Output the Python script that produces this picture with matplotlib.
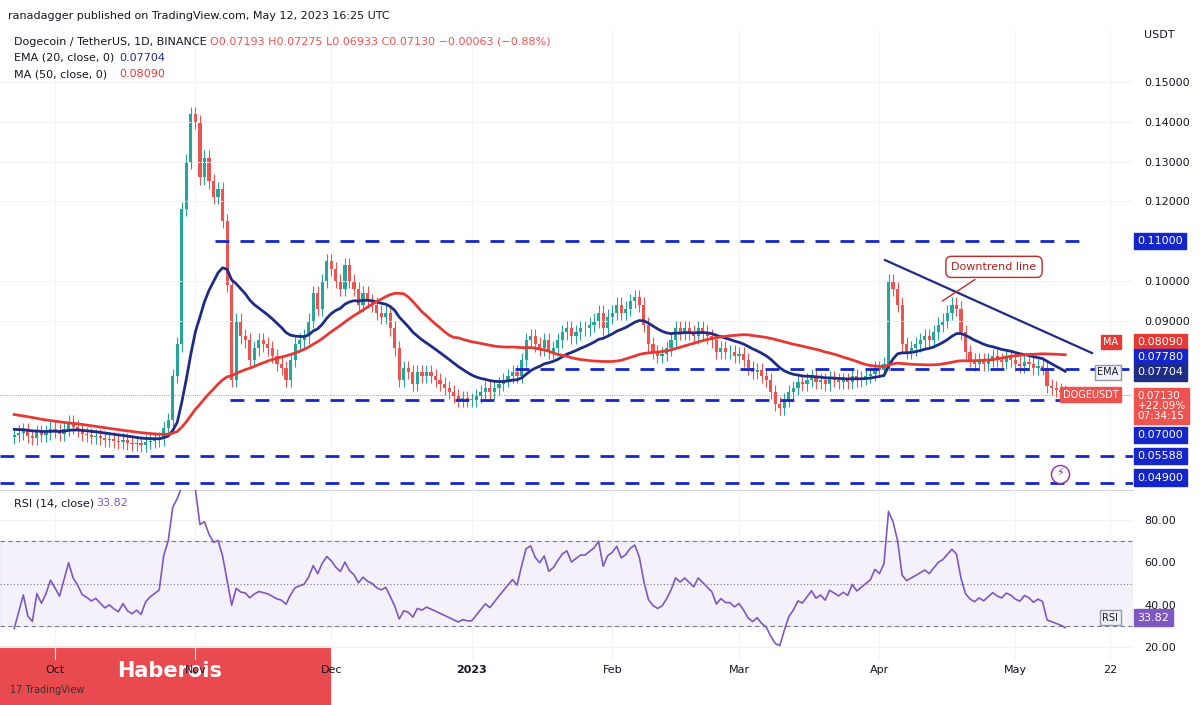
import matplotlib
matplotlib.use("Agg")
import matplotlib.pyplot as plt
import matplotlib.dates as mdates
import numpy as np
import pandas as pd
from matplotlib.patches import Rectangle

start = "2022-09-22"
# closes before the visible window (used only to warm up EMA / MA / RSI)
pre_closes = [
 0.0700,0.0705,0.0712,0.0708,0.0715,0.0720,0.0718,0.0710,0.0705,0.0700,
 0.0698,0.0702,0.0700,0.0695,0.0690,0.0688,0.0692,0.0695,0.0690,0.0685,
 0.0680,0.0682,0.0685,0.0680,0.0675,0.0670,0.0665,0.0668,0.0660,0.0655,
 0.0650,0.0645,0.0640,0.0638,0.0635,0.0632,0.0630,0.0628,0.0625,0.0630,
 0.0628,0.0624,0.0620,0.0618,0.0615,0.0612,0.0615,0.0610,0.0612,0.0608,
]
closes = [
 0.0612,0.0618,0.0625,0.0610,0.0605,0.0620,0.0612,0.0618,0.0628,
 # Oct
 0.0622,0.0615,0.0628,0.0645,0.0632,0.0625,0.0615,0.0612,0.0608,0.0610,
 0.0605,0.0600,0.0602,0.0598,0.0595,0.0600,0.0593,0.0590,0.0592,0.0588,
 0.0595,0.0598,0.0600,0.0602,0.0630,0.0650,0.0760,0.0840,0.1180,0.1300,0.1420,
 # Nov
 0.1400,0.1260,0.1310,0.1250,0.1210,0.1230,0.1150,0.0990,0.0750,0.0900,
 0.0860,0.0850,0.0800,0.0830,0.0850,0.0840,0.0830,0.0810,0.0790,0.0780,
 0.0750,0.0800,0.0840,0.0850,0.0860,0.0900,0.0970,0.0930,0.1000,0.1050,
 # Dec
 0.1030,0.1000,0.0980,0.1040,0.1000,0.0980,0.0940,0.0970,0.0950,0.0940,
 0.0920,0.0910,0.0920,0.0880,0.0830,0.0750,0.0780,0.0770,0.0740,0.0770,
 0.0760,0.0770,0.0760,0.0750,0.0740,0.0730,0.0720,0.0710,0.0700,0.0705,0.0700,
 # Jan
 0.0700,0.0710,0.0720,0.0730,0.0720,0.0730,0.0740,0.0750,0.0760,0.0770,
 0.0760,0.0800,0.0850,0.0860,0.0840,0.0830,0.0850,0.0820,0.0830,0.0850,
 0.0870,0.0880,0.0860,0.0870,0.0880,0.0880,0.0890,0.0900,0.0920,0.0880,0.0910,
 # Feb
 0.0920,0.0940,0.0920,0.0930,0.0950,0.0960,0.0940,0.0890,0.0840,0.0820,
 0.0810,0.0815,0.0830,0.0850,0.0880,0.0870,0.0880,0.0870,0.0860,0.0880,
 0.0870,0.0860,0.0850,0.0820,0.0830,0.0820,0.0820,0.0810,
 # Mar
 0.0815,0.0800,0.0780,0.0770,0.0775,0.0760,0.0750,0.0720,0.0690,0.0680,
 0.0700,0.0720,0.0730,0.0745,0.0740,0.0750,0.0760,0.0745,0.0750,0.0740,
 0.0755,0.0750,0.0745,0.0750,0.0745,0.0760,0.0750,0.0755,0.0760,0.0765,0.0780,
 # Apr
 0.0775,0.0790,0.1000,0.0980,0.0940,0.0840,0.0820,0.0830,0.0840,0.0850,
 0.0860,0.0850,0.0870,0.0890,0.0900,0.0920,0.0940,0.0930,0.0870,0.0820,
 0.0800,0.0790,0.0800,0.0790,0.0800,0.0810,0.0800,0.0795,0.0805,0.0800,
 # May
 0.0790,0.0785,0.0795,0.0790,0.0780,0.0785,0.0780,0.0735,0.0730,0.0725,0.0720,0.0713,
]
wick_up = 0.0018
wick_dn = 0.0018

n_pre = len(pre_closes)
dates = pd.date_range(start, periods=len(closes), freq="D")
c = np.array(closes)
o = np.r_[pre_closes[-1], c[:-1]]
h = np.maximum(o, c) + wick_up
l = np.minimum(o, c) - wick_dn
s = pd.Series(pre_closes + closes)
ema20 = s.ewm(span=20, adjust=False).mean().values[n_pre:]
ma50 = s.rolling(50, min_periods=1).mean().values[n_pre:]
d = s.diff()
up = d.clip(lower=0).ewm(alpha=1/14, adjust=False).mean()
dn = (-d.clip(upper=0)).ewm(alpha=1/14, adjust=False).mean()
rsi = (100 - 100 / (1 + up / dn)).values[n_pre:]

levels = [0.11, 0.0778, 0.07, 0.05588, 0.049]

fig = plt.figure(figsize=(12, 7.05), dpi=100)
W, H = 1200, 705
def rect(x0, y0, x1, y1):
    return [x0 / W, 1 - y1 / H, (x1 - x0) / W, (y1 - y0) / H]
ax = fig.add_axes(rect(0, 30, 1133, 490))
ax2 = fig.add_axes(rect(0, 490, 1133, 660), sharex=ax)

PPD = 4.53
x0 = mdates.date2num(pd.Timestamp("2022-10-01")) - 55 / PPD
x1 = x0 + 1133 / PPD
def px2d(px):
    return x0 + px / PPD

xs = mdates.date2num(dates)
UP, DN = "#26a69a", "#ef5350"
for xi, oi, hi, li, ci in zip(xs, o, h, l, c):
    col = UP if ci >= oi else DN
    ax.vlines(xi, li, hi, color=col, lw=0.8)
    ax.add_patch(Rectangle((xi - 0.35, min(oi, ci)), 0.7, max(abs(ci - oi), 0.0002), color=col, lw=0))
ax.plot(xs, ema20, color="#1f2c85", lw=2)
ax.plot(xs, ma50, color="#e53935", lw=2)

BLUE = "#1426c9"
spans = {0.11: (215, 1080), 0.0778: (515, 1133), 0.07: (230, 1075), 0.05588: (0, 1133), 0.049: (0, 1133)}
for lv in levels:
    a, b = spans[lv]
    ax.hlines(lv, px2d(a), px2d(b), color=BLUE, lw=2, linestyles=(0, (5, 4)))
ax.plot([px2d(885), px2d(1092)], [0.10522, 0.08182], color="#1f2c85", lw=1.6)
ax.annotate("Downtrend line", xy=(px2d(940), 0.0945), xytext=(px2d(994), 0.1035),
            ha="center", va="center", fontsize=8, color="#b71c1c",
            bbox=dict(boxstyle="round,pad=0.5", fc="white", ec="#c62828"),
            arrowprops=dict(arrowstyle="-", color="#c62828"))
ax.axhline(0.0713, color=DN, lw=0.6, ls=":")

ax.set_xlim(x0, x1)
ax.set_ylim(0.04736, 0.1631)
for a_ in (ax, ax2):
    a_.yaxis.tick_right()
    a_.tick_params(axis="y", length=0, labelsize=8, colors="#131722", pad=8)
    a_.tick_params(axis="x", length=0)
    for sp in a_.spines.values():
        sp.set_visible(False)
    a_.grid(True, color="#f0f3fa", lw=0.8)
ax.spines["bottom"].set_visible(True); ax.spines["bottom"].set_color("#d1d4dc")
ax.set_yticks([0.09, 0.10, 0.12, 0.13, 0.14, 0.15])
ax.yaxis.set_major_formatter(matplotlib.ticker.FuncFormatter(lambda v, p: f"{v:.5f}"))
plt.setp(ax.get_xticklabels(), visible=False)

def tag(axis, y, text, fc, tc="white"):
    axis.text(1.004, y, text, transform=axis.get_yaxis_transform(), fontsize=8, color=tc,
              va="center", ha="left", bbox=dict(boxstyle="square,pad=0.3", fc=fc, ec=fc))
tag(ax, 0.11, "0.11000", BLUE)
tag(ax, 0.0846, "0.08090", "#e53935")
tag(ax, 0.0808, "0.07780", BLUE)
tag(ax, 0.0770, "0.07704", "#1f2c85")
ax.text(1.004, 0.0685, "0.07130\n+22.09%\n07:34:15", transform=ax.get_yaxis_transform(), fontsize=7.5,
        color="white", va="center", ha="left", linespacing=1.0,
        bbox=dict(boxstyle="square,pad=0.3", fc=DN, ec=DN))
tag(ax, 0.0612, "0.07000", BLUE)
tag(ax, 0.05588, "0.05588", BLUE)
tag(ax, 0.0505, "0.04900", BLUE)
ax.text(0.987, 0.0846, "MA", transform=ax.get_yaxis_transform(), fontsize=7, color="white", ha="right", va="center",
        bbox=dict(boxstyle="square,pad=0.25", fc="#e53935", ec="#e53935"))
ax.text(0.987, 0.0770, "EMA", transform=ax.get_yaxis_transform(), fontsize=7, color="#131722", ha="right", va="center",
        bbox=dict(boxstyle="square,pad=0.25", fc="#f0f3fa", ec="#9598a1"))
ax.text(0.987, 0.0713, "DOGEUSDT", transform=ax.get_yaxis_transform(), fontsize=7, color="white", ha="right", va="center",
        bbox=dict(boxstyle="square,pad=0.25", fc=DN, ec=DN))
ax.text(1.01, 1.0, "USDT", transform=ax.transAxes, fontsize=8, va="top", ha="left", color="#131722")
ax.plot([px2d(1060)], [0.0515], marker="o", ms=13, mfc="white", mec="#9c27b0")
ax.text(px2d(1060), 0.0515, "⚡", color="#9c27b0", ha="center", va="center", fontsize=8)

ax.text(0.012, 0.985, "Dogecoin / TetherUS, 1D, BINANCE", transform=ax.transAxes, fontsize=8, va="top", color="#131722")
ax.text(0.185, 0.985, "O0.07193 H0.07275 L0.06933 C0.07130 −0.00063 (−0.88%)", transform=ax.transAxes,
        fontsize=8, va="top", color=DN)
ax.text(0.012, 0.95, "EMA (20, close, 0)", transform=ax.transAxes, fontsize=8, va="top", color="#131722")
ax.text(0.105, 0.95, "0.07704", transform=ax.transAxes, fontsize=8, va="top", color="#1f2c85")
ax.text(0.012, 0.915, "MA (50, close, 0)", transform=ax.transAxes, fontsize=8, va="top", color="#131722")
ax.text(0.105, 0.915, "0.08090", transform=ax.transAxes, fontsize=8, va="top", color="#e53935")
fig.text(0.007, 0.985, "ranadagger published on TradingView.com, May 12, 2023 16:25 UTC", fontsize=8, va="top", color="#131722")

# RSI
ax2.axhspan(30, 70, color="#7e57c2", alpha=0.08)
for lv, ls in ((70, (0, (4, 3))), (50, (0, (1, 2))), (30, (0, (4, 3)))):
    ax2.axhline(lv, color="#787b86", lw=0.8, ls=ls)
ax2.plot(xs, rsi, color="#7e57c2", lw=1.2)
ax2.set_ylim(13.9, 94.2)
ax2.set_yticks([20, 40, 60, 80])
ax2.yaxis.set_major_formatter(matplotlib.ticker.FuncFormatter(lambda v, p: f"{v:.2f}"))
tag(ax2, 33.82, "33.82", "#7e57c2")
ax2.text(0.987, 33.82, "RSI", transform=ax2.get_yaxis_transform(), fontsize=7, color="#131722", ha="right", va="center",
         bbox=dict(boxstyle="square,pad=0.25", fc="#f0f3fa", ec="#9598a1"))
ax2.text(0.012, 0.95, "RSI (14, close)", transform=ax2.transAxes, fontsize=8, va="top", color="#131722")
ax2.text(0.085, 0.95, "33.82", transform=ax2.transAxes, fontsize=8, va="top", color="#7e57c2")
ticks = [pd.Timestamp(t) for t in ["2022-10-01", "2022-11-01", "2022-12-01", "2023-01-01", "2023-02-01",
                                   "2023-03-01", "2023-04-01", "2023-05-01", "2023-05-22"]]
tlabels = ["Oct", "Nov", "Dec", "2023", "Feb", "Mar", "Apr", "May", "22"]
ax2.set_xticks(mdates.date2num(ticks))
ax2.set_xticklabels(tlabels, fontsize=8, color="#131722")
for t in ax2.get_xticklabels():
    if t.get_text() == "2023":
        t.set_fontweight("bold")
ax2.set_xlim(x0, x1)
ax2.patch.set_alpha(0)
ax2.set_zorder(5)

fig.patches.append(Rectangle((0, 0), 330 / W, 58 / H, transform=fig.transFigure, color="#e84a4f", zorder=1))
fig.text(117 / W, 1 - 671 / H, "Haberois", fontsize=15, fontweight="bold", color="white", va="center", zorder=2)
fig.text(10 / W, 1 - 690 / H, "17 TradingView", fontsize=7, color="#333", va="center", zorder=2)
fig.savefig("out.png", dpi=100)
